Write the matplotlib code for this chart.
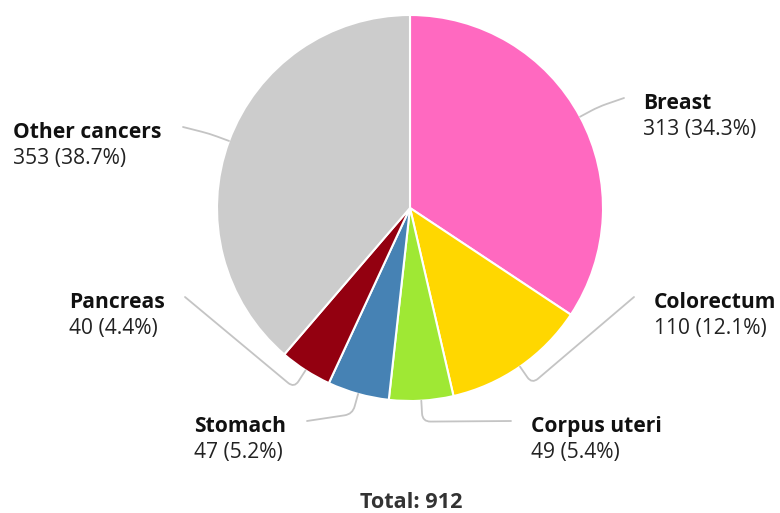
import numpy as np
import matplotlib
matplotlib.use("Agg")
import matplotlib.pyplot as plt
from matplotlib.path import Path
from matplotlib.patches import PathPatch

categories = ["Breast", "Colorectum", "Corpus uteri", "Stomach", "Pancreas", "Other cancers"]
values = [313, 110, 49, 47, 40, 353]
colors = ["#FF69C0", "#FFD700", "#9FE834", "#4682B4", "#930010", "#CCCCCC"]

W, H = 780, 513
fig = plt.figure(figsize=(W / 100, H / 100), dpi=100)
ax = fig.add_axes([0, 0, 1, 1])

cx, cy, R = 410, H - 208, 193
ax.pie(values, colors=colors, startangle=90, counterclock=False,
       center=(cx, cy), radius=R, frame=True,
       wedgeprops=dict(edgecolor="white", linewidth=1.5))
ax.set_xlim(0, W)
ax.set_ylim(0, H)
ax.set_aspect("equal")
ax.axis("off")

# label layout: text x, name-line y (pixels from top), alignment, connector end x
layout = {
    "Breast":        (643, 101, "left", 624),
    "Colorectum":    (654, 300, "left", 634),
    "Corpus uteri":  (531, 424, "left", 511),
    "Stomach":       (194, 424, "left", 307),
    "Pancreas":      (69, 300, "left", 185),
    "Other cancers": (13, 130, "left", 183),
}

total = sum(values)
font = "Open Sans"
fs = 15.1
cum = 0
for name, v in zip(categories, values):
    mid = (cum + v / 2) / total * 2 * np.pi
    cum += v
    sx, sy = np.sin(mid), np.cos(mid)
    p0 = (cx + R * sx, cy + R * sy)
    p1 = (cx + (R + 21) * sx, cy + (R + 21) * sy)
    tx, ty, ha, ex = layout[name]
    p2 = (ex, H - (ty - 3))
    r = 8
    def towards(a, b, d):
        a = np.array(a); b = np.array(b)
        L = np.linalg.norm(b - a)
        return tuple(a + (b - a) * min(d, L / 2) / L)
    q0 = towards(p1, p0, r)
    q1 = towards(p1, p2, r)
    path = Path([p0, q0, p1, q1, p2],
                [Path.MOVETO, Path.LINETO, Path.CURVE3, Path.CURVE3, Path.LINETO])
    ax.add_patch(PathPatch(path, facecolor="none", edgecolor="#C4C4C4", linewidth=1.3,
                           capstyle="round", joinstyle="round"))
    pct = v / total * 100
    ax.text(tx, H - (ty + 8), name, ha=ha, va="baseline", fontsize=fs, fontweight="bold",
            family=font, color="#111111")
    ax.text(tx, H - (ty + 34), f"{v} ({pct:.1f}%)", ha=ha, va="baseline", fontsize=fs,
            family=font, color="#222222")

ax.text(411, H - 508, f"Total: {total}", ha="center", va="baseline", fontsize=15.6,
        fontweight="bold", family=font, color="#333333")

fig.savefig("out.png", dpi=100)
